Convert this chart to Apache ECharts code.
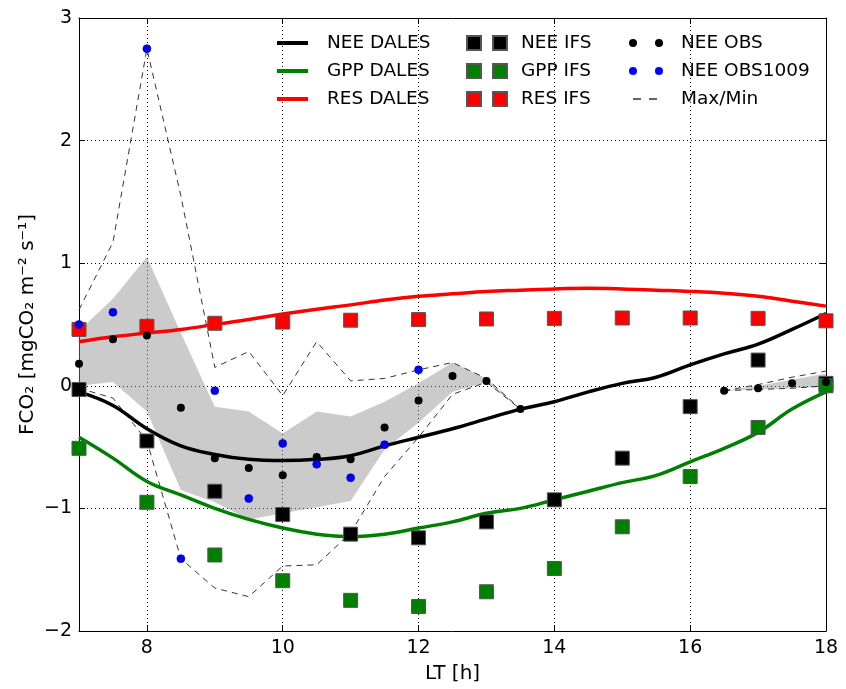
<!DOCTYPE html>
<html>
<head>
<meta charset="utf-8">
<script src="https://cdn.jsdelivr.net/npm/echarts@6/dist/echarts.min.js"></script>
<style>
html,body{margin:0;padding:0;background:#fff;}
#c{width:846px;height:689px;}
</style>
</head>
<body>
<div id="c"></div>
<script>
// ---- data ----
const dalesTimes = [7,7.5,8,8.5,9,9.5,10,10.5,11,11.5,12,12.5,13,13.5,14,14.5,15,15.5,16,16.5,17,17.5,18];
const neeDales = [-0.05,-0.16,-0.35,-0.49,-0.56,-0.60,-0.61,-0.60,-0.57,-0.49,-0.42,-0.35,-0.27,-0.19,-0.13,-0.05,0.02,0.07,0.17,0.26,0.34,0.46,0.59];
const gppDales = [-0.42,-0.59,-0.78,-0.89,-1.00,-1.09,-1.16,-1.21,-1.23,-1.21,-1.16,-1.11,-1.04,-1.00,-0.93,-0.86,-0.79,-0.73,-0.62,-0.51,-0.38,-0.19,-0.05];
const resDales = [0.36,0.40,0.43,0.46,0.50,0.54,0.585,0.625,0.66,0.70,0.73,0.75,0.77,0.78,0.79,0.795,0.79,0.78,0.77,0.755,0.73,0.69,0.65];

const ifsTimes = [7,8,9,10,11,12,13,14,15,16,17,18];
const neeIfs = [-0.03,-0.45,-0.86,-1.05,-1.21,-1.24,-1.11,-0.93,-0.59,-0.17,0.21,0.02];
const gppIfs = [-0.51,-0.95,-1.38,-1.59,-1.75,-1.80,-1.68,-1.49,-1.15,-0.74,-0.34,0.00];
const resIfs = [0.46,0.485,0.51,0.52,0.535,0.54,0.545,0.55,0.553,0.553,0.55,0.53];

const obsTimes = [7,7.5,8,8.5,9,9.5,10,10.5,11,11.5,12,12.5,13,13.5,16.5,17,17.5,18];
const neeObs = [0.18,0.38,0.41,-0.18,-0.59,-0.67,-0.73,-0.58,-0.60,-0.34,-0.12,0.08,0.04,-0.19,-0.04,-0.02,0.02,0.03];

const obs1009Times = [7,7.5,8,8.5,9,9.5,10,10.5,11,11.5,12];
const neeObs1009 = [0.50,0.60,2.75,-1.41,-0.04,-0.92,-0.47,-0.64,-0.75,-0.48,0.13];

const bandTimesA = [7,7.5,8,8.5,9,9.5,10,10.5,11,11.5,12,12.5,13,13.5];
const bandUpperA = [0.45,0.71,1.05,0.43,-0.17,-0.21,-0.39,-0.21,-0.25,-0.13,0.02,0.19,0.06,-0.19];
const bandLowerA = [0.00,0.03,-0.21,-0.85,-0.95,-1.09,-1.04,-0.99,-0.94,-0.52,-0.30,-0.05,0.03,-0.19];
const maxA = [0.62,1.17,2.75,1.55,0.15,0.28,-0.08,0.36,0.04,0.06,0.13,0.19,0.06,-0.19];
const minA = [-0.02,-0.10,-0.45,-1.41,-1.65,-1.72,-1.47,-1.46,-1.20,-0.74,-0.42,-0.07,0.03,-0.19];

const bandTimesB = [16.5,17,17.5,18];
const bandUpperB = [-0.04,0.00,0.05,0.10];
const bandLowerB = [-0.04,-0.03,-0.02,-0.01];
const maxB = [-0.04,0.01,0.07,0.12];
const minB = [-0.04,-0.03,-0.02,0.00];

const xTicks = [8,10,12,14,16,18];

// ---- helpers ----
const zip = (xs, ys) => xs.map((x, i) => [x, ys[i]]);
const zip3 = (xs, lo, hi) => xs.map((x, i) => [x, lo[i], hi[i]]);

const FONT = 'DejaVu Sans';
const lineIcon = 'path://M0,0h31v4h-31z';
const sqIcon = 'path://M0,0h14v14h-14z M26,0h14v14h-14z';
const dotIcon = 'path://M0,4a4,4 0 1,0 8,0a4,4 0 1,0 -8,0z M26,4a4,4 0 1,0 8,0a4,4 0 1,0 -8,0z';
const dashIcon = 'path://M0,0h8v1.5h-8z M16,0h8v1.5h-8z';

const bandColor = 'rgba(140,140,140,0.45)';
const dashStyle = {color:'#333', width:1, type:[6,5], opacity:1};

function bandSeries(times, lower, upper) {
  return {
    type:'custom', silent:true, z:1, clip:true,
    data: zip3(times, lower, upper),
    encode:{x:0, y:[1,2]},
    renderItem: function (params, api) {
      if (params.dataIndexInside !== 0) return null;
      const n = params.dataInsideLength;
      const top = [], bot = [];
      for (let i = 0; i < n; i++) {
        top.push(api.coord([api.value(0, i), api.value(2, i)]));
        bot.push(api.coord([api.value(0, i), api.value(1, i)]));
      }
      return {type:'polygon', shape:{points: top.concat(bot.reverse())},
              style:{fill:bandColor, stroke:'none'}};
    }
  };
}
function dashSeries(times, vals) {
  return {name:'Max/Min', type:'line', data:zip(times, vals), symbol:'none', lineStyle:dashStyle,
          itemStyle:{color:'#333', opacity:1}, z:2};
}

const axisLineStyle = {show:true, onZero:false, lineStyle:{color:'#000', width:1}};
const tickStyle = {show:true, inside:true, length:6, lineStyle:{color:'#000', width:1}};
const gridLine = {show:true, lineStyle:{color:'#000', width:1, type:[1,3]}};
const labelStyle = {fontFamily:FONT, fontSize:19, color:'#000'};

const legendText = (pad) => ({fontFamily:FONT, fontSize:18.5, color:'#000', lineHeight:20, padding:[0,0,0,pad]});

const sq = (c) => ({color:c, borderColor:'#555', borderWidth:1, opacity:1});

const option = {
  animation:false,
  backgroundColor:'#fff',
  grid:{left:79, right:20, top:18, bottom:56, containLabel:false},
  xAxis:[
    {type:'value', min:7, max:18, position:'bottom',
     axisLine:axisLineStyle,
     axisTick:Object.assign({customValues:xTicks}, tickStyle),
     axisLabel:Object.assign({customValues:xTicks, margin:8}, labelStyle),
     splitLine:gridLine,
     name:'LT [h]', nameLocation:'middle', nameGap:33,
     nameTextStyle:{fontFamily:FONT, fontSize:20, color:'#000'}},
    {type:'value', min:7, max:18, position:'top',
     axisLine:axisLineStyle,
     axisTick:Object.assign({customValues:xTicks}, tickStyle),
     axisLabel:{show:false}, splitLine:{show:false}}
  ],
  yAxis:[
    {type:'value', min:-2, max:3, interval:1, position:'left',
     axisLine:axisLineStyle, axisTick:tickStyle,
     axisLabel:Object.assign({margin:7, formatter:v => String(v).replace('-', '\u2212')}, labelStyle),
     splitLine:gridLine,
     name:'FCO\u2082 [mgCO\u2082 m\u207B\u00B2 s\u207B\u00B9]', nameLocation:'middle', nameRotate:90, nameGap:41,
     nameMoveOverlap:false,
     nameTextStyle:{fontFamily:FONT, fontSize:20, color:'#000'}},
    {type:'value', min:-2, max:3, interval:1, position:'right',
     axisLine:axisLineStyle, axisTick:tickStyle,
     axisLabel:{show:false}, splitLine:{show:false}}
  ],
  legend:[
    {orient:'vertical', left:277, top:33, padding:0, itemGap:8, itemWidth:31, itemHeight:4,
     itemStyle:{borderWidth:0}, textStyle:legendText(14), selectedMode:false,
     data:[{name:'NEE DALES', icon:lineIcon},{name:'GPP DALES', icon:lineIcon},{name:'RES DALES', icon:lineIcon}]},
    {orient:'vertical', left:466, top:33, padding:0, itemGap:8, itemWidth:40, itemHeight:14,
     textStyle:legendText(9), selectedMode:false,
     data:[{name:'NEE IFS', icon:sqIcon},{name:'GPP IFS', icon:sqIcon},{name:'RES IFS', icon:sqIcon}]},
    {orient:'vertical', left:629, top:33, padding:0, itemGap:8, itemWidth:34, itemHeight:8,
     itemStyle:{borderWidth:0}, textStyle:legendText(13), selectedMode:false,
     data:[{name:'NEE OBS', icon:dotIcon},{name:'NEE OBS1009', icon:dotIcon}]},
    {orient:'vertical', left:633, top:89, padding:0, itemGap:8, itemWidth:24, itemHeight:2,
     itemStyle:{borderWidth:0}, textStyle:legendText(19), selectedMode:false,
     data:[{name:'Max/Min', icon:dashIcon}]}
  ],
  series:[
    bandSeries(bandTimesA, bandLowerA, bandUpperA),
    bandSeries(bandTimesB, bandLowerB, bandUpperB),
    dashSeries(bandTimesA, maxA),
    dashSeries(bandTimesA, minA),
    dashSeries(bandTimesB, maxB),
    dashSeries(bandTimesB, minB),
    {name:'NEE DALES', type:'line', data:zip(dalesTimes, neeDales), smooth:0.4, symbol:'none',
     lineStyle:{color:'#000', width:3.5, opacity:1}, itemStyle:{color:'#000', opacity:1}, z:3},
    {name:'GPP DALES', type:'line', data:zip(dalesTimes, gppDales), smooth:0.4, symbol:'none',
     lineStyle:{color:'#008000', width:3.5, opacity:1}, itemStyle:{color:'#008000', opacity:1}, z:3},
    {name:'RES DALES', type:'line', data:zip(dalesTimes, resDales), smooth:0.4, symbol:'none',
     lineStyle:{color:'#ff0000', width:3.5, opacity:1}, itemStyle:{color:'#ff0000', opacity:1}, z:3},
    {name:'NEE IFS', type:'scatter', data:zip(ifsTimes, neeIfs), symbol:'rect', symbolSize:14,
     itemStyle:sq('#000'), z:4},
    {name:'GPP IFS', type:'scatter', data:zip(ifsTimes, gppIfs), symbol:'rect', symbolSize:14,
     itemStyle:sq('#008000'), z:4},
    {name:'RES IFS', type:'scatter', data:zip(ifsTimes, resIfs), symbol:'rect', symbolSize:14,
     itemStyle:sq('#ff0000'), z:4},
    {name:'NEE OBS', type:'scatter', data:zip(obsTimes, neeObs), symbol:'circle', symbolSize:8,
     itemStyle:{color:'#000', opacity:1}, z:5},
    {name:'NEE OBS1009', type:'scatter', data:zip(obs1009Times, neeObs1009), symbol:'circle', symbolSize:8,
     itemStyle:{color:'#0000ff', borderColor:'#000080', borderWidth:0.6, opacity:1}, z:5}
  ]
};

const chart = echarts.init(document.getElementById('c'), null, {renderer:'canvas'});
chart.setOption(option);
</script>
</body>
</html>
